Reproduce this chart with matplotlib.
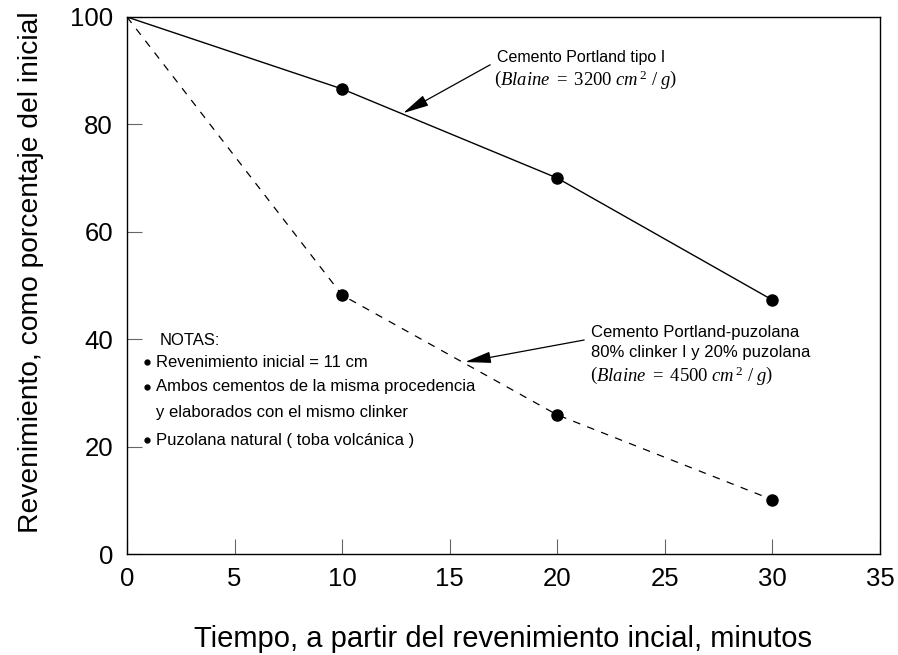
import matplotlib.pyplot as plt

# data
tiempo = [0, 10, 20, 30]
portland = [100, 86.6, 70.0, 47.3]
puzolana = [100, 48.2, 25.9, 10.1]

xticks = [0, 5, 10, 15, 20, 25, 30, 35]
yticks = [0, 20, 40, 60, 80, 100]

notas = ['Revenimiento inicial = 11 cm',
         'Ambos cementos de la misma procedencia',
         'y elaborados con el mismo clinker',
         'Puzolana natural ( toba volcánica )']

plt.rcParams['font.family'] = ['Liberation Sans', 'DejaVu Sans']
plt.rcParams['mathtext.fontset'] = 'custom'
plt.rcParams['mathtext.rm'] = 'Liberation Serif'
plt.rcParams['mathtext.it'] = 'Liberation Serif:italic'

fig = plt.figure(figsize=(8.98, 6.55), dpi=100)
ax = fig.add_axes([127/898, 1 - 554/655, 753/898, 537/655])

# first points do not get a marker
ax.plot(tiempo, portland, color='black', lw=1)
ax.plot(tiempo[1:], portland[1:], 'o', color='black', ms=8)
ax.plot(tiempo, puzolana, color='black', lw=0.9, ls=(0, (6, 6)))
ax.plot(tiempo[1:], puzolana[1:], 'o', color='black', ms=8)

ax.set_xlim(0, 35)
ax.set_ylim(0, 100)
ax.set_xticks(xticks)
ax.set_yticks(yticks)
ax.tick_params(direction='in', length=11, width=0.8, color='#666666',
               labelsize=18.5)
ax.tick_params(axis='x', pad=9)
ax.tick_params(axis='y', pad=10)
for s in ax.spines.values():
    s.set_linewidth(1)

ax.set_xlabel('Tiempo, a partir del revenimiento incial, minutos', fontsize=21)
ax.xaxis.set_label_coords(0.5, -0.132)
ax.set_ylabel('Revenimiento, como porcentaje del inicial', fontsize=20.3)
ax.yaxis.set_label_coords(-0.11, 0.525)

arrow = dict(arrowstyle='-|>,head_length=1.0,head_width=0.22', color='black',
             lw=0.9, mutation_scale=16, shrinkA=0, shrinkB=0)

# Portland tipo I
ax.annotate('', xy=(12.83, 82.1), xytext=(16.88, 91.1), arrowprops=arrow)
ax.text(17.2, 92.5, 'Cemento Portland tipo I', fontsize=11.5, va='center')
ax.text(17.05, 88.3, r'$\left(Blaine\ =\ 3200\ cm^{\,2}\ /\ g\right)$', fontsize=13.4, va='center')

# Portland-puzolana
ax.annotate('', xy=(15.71, 35.75), xytext=(21.25, 39.85), arrowprops=arrow)
ax.text(21.57, 41.2, 'Cemento Portland-puzolana', fontsize=12, va='center')
ax.text(21.57, 37.6, '80% clinker I y 20% puzolana', fontsize=12, va='center')
ax.text(21.5, 33.0, r'$\left(Blaine\ =\ 4500\ cm^{\,2}\ /\ g\right)$', fontsize=13.4, va='center')

# notas
ax.text(1.53, 39.85, 'NOTAS:', fontsize=12, va='center')
ny = [35.75, 31.1, 26.4, 21.2]
for i, (t, y) in enumerate(zip(notas, ny)):
    if i != 2:
        ax.plot(0.93, y, 'o', color='black', ms=3.5)
    ax.text(1.35, y, t, fontsize=12, va='center')

plt.savefig('out.png', dpi=100)
